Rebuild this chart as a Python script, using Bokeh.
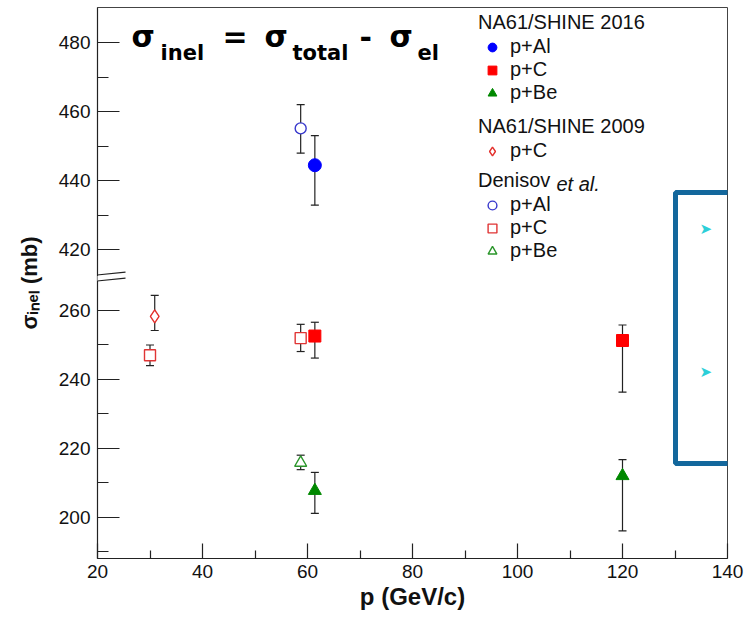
from bokeh.plotting import figure
from bokeh.models import (ColumnDataSource, Whisker, TeeHead, FixedTicker, Legend,
                          LegendItem, Label, PolyAnnotation, Range1d)
from bokeh.embed import file_html
from bokeh.resources import INLINE

# ---------------- data ----------------
# NA61/SHINE 2016
al16_p = [61.4]
al16_s = [444.5]
al16_up = [8.6]
al16_dn = [11.6]

c16_p = [61.4, 120.0]
c16_s = [252.6, 251.3]
c16_up = [4.0, 4.5]
c16_dn = [6.4, 15.0]

be16_p = [61.4, 120.0]
be16_s = [207.7, 212.0]
be16_up = [5.3, 4.7]
be16_dn = [6.6, 16.0]

# NA61/SHINE 2009
c09_p = [30.9]
c09_s = [258.3]
c09_up = [6.1]
c09_dn = [4.1]

# Denisov et al.
alD_p = [58.7]
alD_s = [455.2]
alD_up = [6.9]
alD_dn = [7.2]

cD_p = [30.0, 58.7]
cD_s = [247.0, 252.0]
cD_up = [3.0, 4.0]
cD_dn = [3.0, 3.9]

beD_p = [58.7]
beD_s = [215.8]
beD_up = [2.2]
beD_dn = [2.0]

x_ticks = [20, 40, 60, 80, 100, 120, 140]
x_minor = [30, 50, 70, 90, 110, 130]
y_ticks_low = [200, 220, 240, 260]
y_ticks_high = [420, 440, 460, 480]
y_minor_low = [190, 210, 230, 250]
y_minor_high = [430, 450, 470]

# broken y axis: values above BREAK are shifted down by OFFSET
BREAK = 300.0
OFFSET = 142.3


def to_axis(v):
    return v - OFFSET if v > BREAK else v


def make_source(px, s, up, dn):
    return ColumnDataSource(dict(
        x=px,
        y=[to_axis(v) for v in s],
        upper=[to_axis(v + u) for v, u in zip(s, up)],
        lower=[to_axis(v - d) for v, d in zip(s, dn)],
    ))


FL = 97
FB = 558


def sx(px):
    return px - FL


def sy(py):
    return FB - py


p = figure(width=745, height=617, x_range=Range1d(20, 140), y_range=Range1d(188, 348),
           output_backend="svg", toolbar_location=None,
           min_border_left=97, min_border_right=18, min_border_top=7, min_border_bottom=59)
p.xgrid.visible = False
p.ygrid.visible = False
p.background_fill_color = "white"
p.border_fill_color = "white"
p.outline_line_color = "#444444"
p.outline_line_width = 1

for ax in (p.xaxis[0], p.yaxis[0]):
    ax.axis_line_color = "#222222"
    ax.axis_line_width = 1.2
    ax.major_tick_line_color = "#222222"
    ax.minor_tick_line_color = "#222222"
    ax.major_tick_line_width = 1.2
    ax.minor_tick_line_width = 1.2
    ax.major_tick_out = 0
    ax.minor_tick_out = 0
    ax.major_label_text_font = "Liberation Sans"
    ax.major_label_text_font_size = "19px"
    ax.major_label_text_color = "#111111"
    ax.axis_label_text_font = "Liberation Sans"
    ax.axis_label_text_font_style = "bold"
    ax.axis_label_text_color = "#111111"

p.xaxis.ticker = FixedTicker(ticks=x_ticks, minor_ticks=x_minor)
p.xaxis.major_tick_in = 15
p.xaxis.minor_tick_in = 8
p.xaxis.major_label_standoff = 6
p.xaxis.axis_label = "p (GeV/c)"
p.xaxis.axis_label_text_font_size = "24px"
p.xaxis.axis_label_standoff = 2

y_major = y_ticks_low + [to_axis(v) for v in y_ticks_high]
y_min = y_minor_low + [to_axis(v) for v in y_minor_high]
p.yaxis.ticker = FixedTicker(ticks=y_major, minor_ticks=y_min)
p.yaxis.major_label_overrides = {to_axis(v): str(v) for v in y_ticks_low + y_ticks_high}
p.yaxis.major_tick_in = 22
p.yaxis.minor_tick_in = 11
p.yaxis.major_label_standoff = 7
p.yaxis.axis_label = "σᵢₙₑₗ (mb)"
p.yaxis.axis_label_text_font_size = "22px"
p.yaxis.axis_label_standoff = 14

series = [
    # name, p, s, up, dn, marker, size, fill, line
    ("al16", al16_p, al16_s, al16_up, al16_dn, "circle", 13, "#0000ff", "#0000ff"),
    ("c16", c16_p, c16_s, c16_up, c16_dn, "square", 12, "#ff0000", "#ff0000"),
    ("be16", be16_p, be16_s, be16_up, be16_dn, "triangle", 13, "#008800", "#008800"),
    ("c09", c09_p, c09_s, c09_up, c09_dn, "diamond", 13, "white", "#e3302c"),
    ("alD", alD_p, alD_s, alD_up, alD_dn, "circle", 11, "white", "#3838cc"),
    ("cD", cD_p, cD_s, cD_up, cD_dn, "square", 11, "white", "#e03535"),
    ("beD", beD_p, beD_s, beD_up, beD_dn, "triangle", 12, "white", "#2b962b"),
]

rend = {}
for name, px, s, up, dn, mk, size, fill, line in series:
    src = make_source(px, s, up, dn)
    w = Whisker(base="x", upper="upper", lower="lower", source=src, dimension="height",
                line_color="#222222", line_width=1.2,
                upper_head=TeeHead(size=8, line_color="#222222", line_width=1.2),
                lower_head=TeeHead(size=8, line_color="#222222", line_width=1.2))
    p.add_layout(w)
    r = p.scatter("x", "y", source=src, marker=mk, size=size, fill_color=fill,
                  line_color=line, line_width=1.4 if fill == "white" else 1)
    rend[name] = r

# ---------------- legends ----------------
def mk_legend(title, items, bottom_py):
    lg = Legend(title=title, items=items, location=(sx(478), FB - bottom_py),
                orientation="vertical", border_line_color=None, background_fill_alpha=0,
                padding=0, margin=0, spacing=0,
                label_text_font="Liberation Sans", label_text_font_size="20px",
                label_text_color="#111111",
                title_text_font="Liberation Sans", title_text_font_size="20px",
                title_text_font_style="normal", title_text_color="#111111",
                title_standoff=1, glyph_width=28, glyph_height=22, label_height=21,
                label_standoff=4)
    p.add_layout(lg)
    return lg


mk_legend("NA61/SHINE 2016", [LegendItem(label="p+Al", renderers=[rend["al16"]]),
                              LegendItem(label="p+C", renderers=[rend["c16"]]),
                              LegendItem(label="p+Be", renderers=[rend["be16"]])], 104.2)
mk_legend("NA61/SHINE 2009", [LegendItem(label="p+C", renderers=[rend["c09"]])], 162.3)
mk_legend("Denisov", [LegendItem(label="p+Al", renderers=[rend["alD"]]),
                      LegendItem(label="p+C", renderers=[rend["cD"]]),
                      LegendItem(label="p+Be", renderers=[rend["beD"]])], 262.2)


def lab(text, px, py, size, font="DejaVu Sans", style="bold", color="#000000"):
    # py is the wanted baseline; bokeh places the alphabetic baseline ~0.22em lower
    fs = float(size.replace("px", ""))
    p.add_layout(Label(x=sx(px), y=sy(py - 0.22 * fs), x_units="screen", y_units="screen",
                       text=text, text_font=font, text_font_size=size,
                       text_font_style=style, text_color=color,
                       text_baseline="alphabetic"))


lab("et al.", 556, 187.6, "20px", font="Liberation Sans", style="italic", color="#111111")

# ---------------- formula ----------------
lab("σ", 131, 43, "30px")
lab("inel", 160, 57, "21px")
lab("=", 222, 43, "30px")
lab("σ", 264, 43, "30px")
lab("total", 292, 57, "21px")
lab("-", 359, 43, "30px")
lab("σ", 389, 43, "30px")
lab("el", 417, 57, "21px")

# axis break marks
p.add_layout(PolyAnnotation(xs=[sx(88), sx(108), sx(108), sx(88)],
                            ys=[sy(276.4), sy(274.4), sy(279.4), sy(281.4)],
                            xs_units="screen", ys_units="screen",
                            fill_color="white", fill_alpha=1, line_alpha=0))
for y0 in (276.7, 282.7):
    p.add_layout(PolyAnnotation(xs=[sx(74), sx(125)], ys=[sy(y0), sy(y0 - 5)],
                                xs_units="screen", ys_units="screen",
                                fill_alpha=0, line_color="#222222", line_alpha=1,
                                line_width=1.2))

# slide overlay elements
p.add_layout(PolyAnnotation(xs=[sx(675), sx(770), sx(770), sx(675)],
                            ys=[sy(192), sy(192), sy(463), sy(463)],
                            xs_units="screen", ys_units="screen",
                            fill_alpha=0, line_color="#13679c", line_alpha=1, line_width=5))
lab("➤", 699, 232, "15px", font="DejaVu Sans", style="normal", color="#2ccfd8")
lab("➤", 699, 375, "15px", font="DejaVu Sans", style="normal", color="#2ccfd8")

open("out.html", "w").write(file_html(p, INLINE))
